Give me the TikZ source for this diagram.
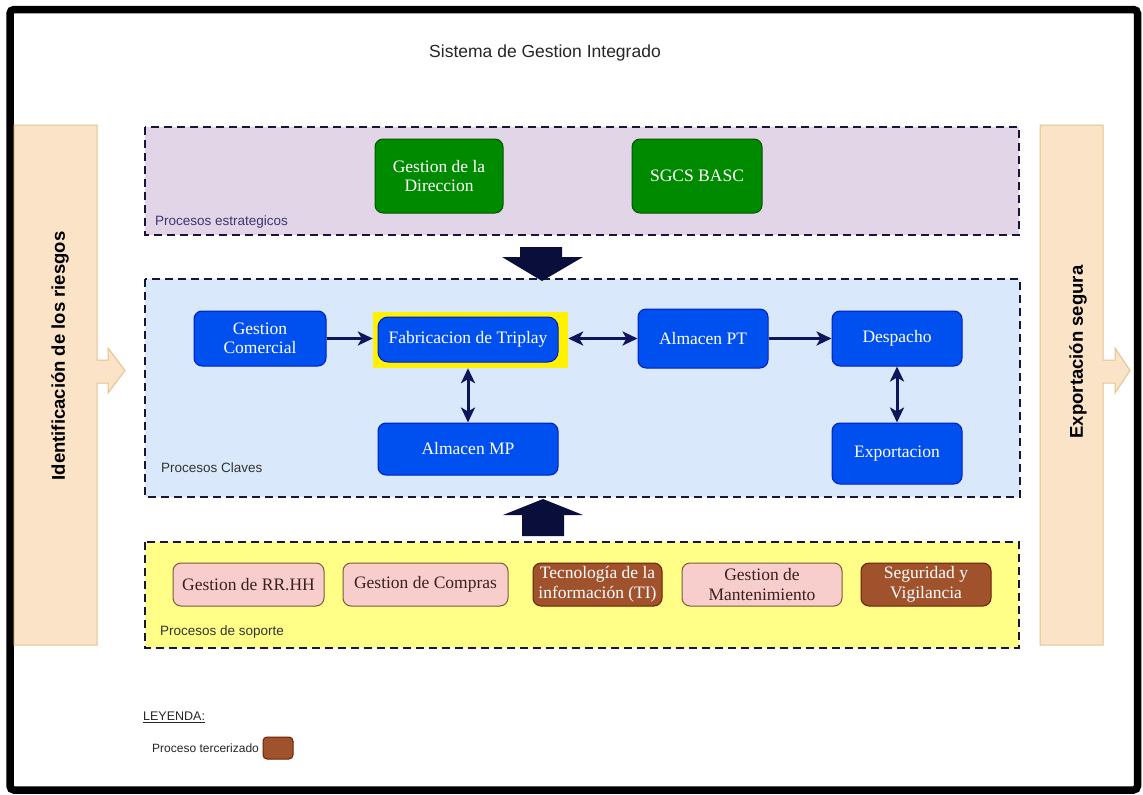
\documentclass[tikz,border=0pt]{standalone}
\usepackage{fontspec}
\setmainfont{Liberation Serif}
\newfontfamily\lsans{Liberation Sans}
\usetikzlibrary{arrows.meta}
\definecolor{frameblk}{HTML}{000000}
\definecolor{purplebg}{HTML}{E1D5E7}
\definecolor{bluebg}{HTML}{DAE8FC}
\definecolor{yellowbg}{HTML}{FFFF88}
\definecolor{dashcol}{HTML}{15163A}
\definecolor{boxblue}{HTML}{0050EF}
\definecolor{boxbluedk}{HTML}{001DBC}
\definecolor{boxgreen}{HTML}{008A00}
\definecolor{boxgreendk}{HTML}{005700}
\definecolor{boxpink}{HTML}{F8CECC}
\definecolor{pinkline}{HTML}{7A5A35}
\definecolor{boxbrown}{HTML}{A0522D}
\definecolor{browndk}{HTML}{6D1F00}
\definecolor{hlyellow}{HTML}{FFF200}
\definecolor{navy}{HTML}{10145A}
\definecolor{blockcol}{HTML}{0A0E3A}
\definecolor{panelfill}{HTML}{FBE3C8}
\definecolor{panelline}{HTML}{E2C48F}
\definecolor{labelcol}{HTML}{333333}
\definecolor{labelpur}{HTML}{3A3670}
\definecolor{pinktext}{HTML}{3A2020}
\begin{document}
\begin{tikzpicture}[x=1pt,y=-1pt,
  procbox/.style={rounded corners=8pt, draw, line width=1pt, align=center, inner sep=0pt,
     font=\fontsize{17.5}{19.5}\selectfont},
  bluebox/.style={procbox, fill=boxblue, draw=boxbluedk, text=white},
  greenbox/.style={procbox, fill=boxgreen, draw=boxgreendk, text=white},
  pinkbox/.style={procbox, fill=boxpink, draw=pinkline, text=pinktext},
  brownbox/.style={procbox, fill=boxbrown, draw=browndk, text=white},
  container/.style={draw=dashcol, line width=2.6pt, dash pattern=on 8pt off 5pt},
  grplabel/.style={anchor=west, inner sep=0pt, font=\lsans\fontsize{13.5}{15}\selectfont, text=labelcol},
  flow/.style={draw=navy, line width=3pt, -{Stealth[length=15pt,width=14pt,inset=4pt]}},
  flowboth/.style={draw=navy, line width=3pt, {Stealth[length=15pt,width=14pt,inset=4pt]}-{Stealth[length=15pt,width=14pt,inset=4pt]}},
  sidepanel/.style={fill=panelfill, draw=panelline, line width=1pt},
  sidetext/.style={rotate=90, inner sep=0pt, font=\lsans\bfseries\fontsize{18.5}{20}\selectfont}
]
\useasboundingbox (0,0) rectangle (1143,795);
\fill[white] (0,0) rectangle (1143,795);

% outer frame
\draw[frameblk, line width=7.5pt, rounded corners=4pt] (10,9.5) rectangle (1137.5,790);

% title
\node[font=\lsans\fontsize{17.5}{19}\selectfont, text=black!85] (title) at (545,53) {Sistema de Gestion Integrado};

% side panels
\draw[sidepanel] (14,125) -- (97,125) -- (97,360) -- (108,360) -- (108,348) -- (125,370.5)
   -- (108,393) -- (108,383) -- (97,383) -- (97,645) -- (14,645) -- cycle;
\node[sidetext] (riesgos) at (60,356) {Identificación de los riesgos};

\draw[sidepanel] (1040,125) -- (1103,125) -- (1103,360) -- (1115,360) -- (1115,348) -- (1130,370.5)
   -- (1115,393) -- (1115,383) -- (1103,383) -- (1103,645) -- (1040,645) -- cycle;
\node[sidetext] (segura) at (1078,352) {Exportación segura};

% containers
\draw[container, fill=purplebg] (145,127) rectangle (1019,235);
\draw[container, fill=bluebg] (145,279) rectangle (1020,497);
\draw[container, fill=yellowbg] (145,542) rectangle (1019,648);

\node[grplabel, text=labelpur] (lblest) at (155,222) {Procesos estrategicos};
\node[grplabel] (lblcla) at (161,468) {Procesos Claves};
\node[grplabel] (lblsop) at (160,632) {Procesos de soporte};

% block arrows
\fill[blockcol] (520,247) -- (562,247) -- (562,257) -- (583,257) -- (542,281) -- (502,257) -- (520,257) -- cycle;
\fill[blockcol] (522,536) -- (564,536) -- (564,515) -- (583,515) -- (543,499) -- (503,515) -- (522,515) -- cycle;

% strategic
\node[greenbox, minimum width=128pt, minimum height=74pt] (gd) at (439,176) {Gestion de la\\Direccion};
\node[greenbox, minimum width=130pt, minimum height=74pt] (sgcs) at (697,176) {SGCS BASC};

% key processes
\node[bluebox, minimum width=132pt, minimum height=55pt] (gc) at (260,338.5) {Gestion\\Comercial};
\node[fill=hlyellow, minimum width=195pt, minimum height=56pt, inner sep=0pt] (fabhl) at (470.5,340) {};
\node[bluebox, rounded corners=10pt, minimum width=180pt, minimum height=45pt] (fab) at (468,339.5) {Fabricacion de Triplay};
\node[bluebox, minimum width=180pt, minimum height=52pt] (amp) at (468,449) {Almacen MP};
\node[bluebox, minimum width=130pt, minimum height=59pt] (apt) at (703,338.5) {Almacen PT};
\node[bluebox, minimum width=130pt, minimum height=55pt] (desp) at (897,338.5) {Despacho};
\node[bluebox, minimum width=130pt, minimum height=61pt] (expo) at (897,453.5) {Exportacion};

\draw[flow] (gc.east) -- (fabhl.west |- gc.east);
\draw[flowboth] (fabhl.east |- apt.west) -- (apt.west);
\draw[flow] (apt.east) -- (desp.west);
\draw[flowboth] (fabhl.south -| fab.south) -- (amp.north);
\draw[flowboth] (desp.south) -- (expo.north);

% support processes
\node[pinkbox, minimum width=151pt, minimum height=43pt] (rh) at (248.5,584.5) {Gestion de RR.HH};
\node[pinkbox, minimum width=165pt, minimum height=43pt] (comp) at (425.5,584.5) {Gestion de Compras};
\node[brownbox, minimum width=129pt, minimum height=43pt] (ti) at (597.5,584.5) {Tecnología de la\\información (TI)};
\node[pinkbox, minimum width=160pt, minimum height=43pt] (mant) at (762,584.5) {Gestion de\\Mantenimiento};
\node[brownbox, minimum width=130pt, minimum height=43pt] (seg) at (926,584.5) {Seguridad y\\Vigilancia};

% legend
\node[anchor=west, inner sep=0pt, font=\lsans\fontsize{12.5}{14}\selectfont, text=black!85] (ley) at (143,717) {\underline{LEYENDA:}};
\node[anchor=west, inner sep=0pt, font=\lsans\fontsize{12}{14}\selectfont, text=black!85] (terc) at (152,748) {Proceso tercerizado};
\node[brownbox, rounded corners=4pt, minimum width=30pt, minimum height=22pt] (legbox) at (278,748) {};
\end{tikzpicture}
\end{document}
